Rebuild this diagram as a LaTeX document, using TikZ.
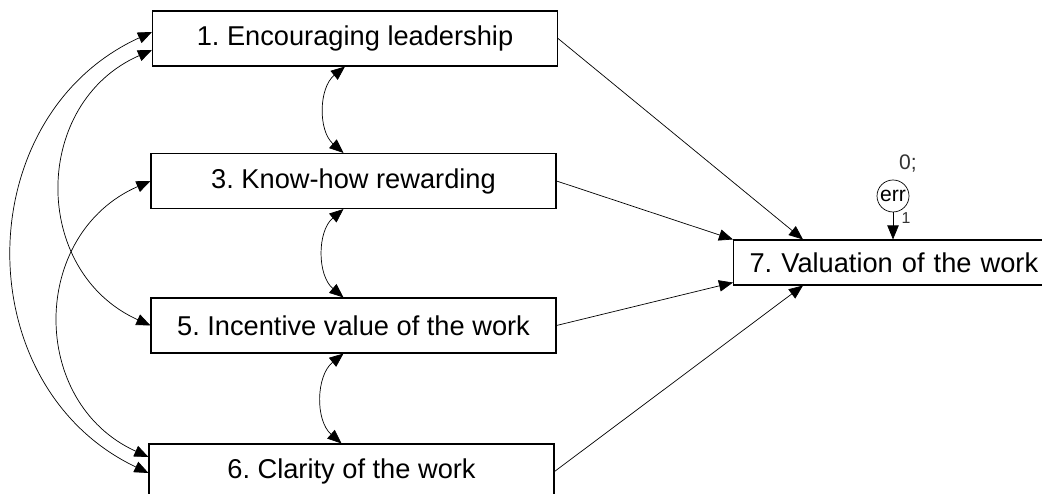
\documentclass[tikz,border=0pt]{standalone}
\usepackage{fontspec}
\setmainfont{Liberation Sans}
\frenchspacing
\usetikzlibrary{arrows.meta}
\tikzset{var/.style = {draw, line width = 0.6pt, minimum width = 8.1cm, minimum height = 1.1cm, inner sep = 0, font = \fontsize{15.5}{18}\selectfont}}
\tikzset{reg/.style = {-{Triangle[length = 8pt, width = 6.5pt]}, line width = 0.4pt}}
\tikzset{cov/.style = {{Triangle[length = 8pt, width = 6.5pt]}-{Triangle[length = 8pt, width = 6.5pt]}, line width = 0.4pt}}

\begin{document}
\begin{tikzpicture}
    \useasboundingbox (0, 0) rectangle (20.84, 9.88);
    \clip (0, 0) rectangle (20.84, 9.88);

    \node [var] (enc) at (7.10, 9.11) {1. Encouraging leadership};
    \node [var] (know) at (7.07, 6.26) {3. Know-how rewarding};
    \node [var] (inc) at (7.07, 3.37) {5. Incentive value of the work};
    \node [var] (clar) at (7.03, 0.45) {6. Clarity of the work};
    \node [var, minimum width = 6.4cm, minimum height = 0.9cm, text width = 7.5cm, align = left, inner xsep = 0.32cm, anchor = west] (val) at (14.66, 4.63) {7. Valuation of the work};

    \node [draw, circle, inner sep = 0, minimum size = 0.64cm, font = \fontsize{12}{14}\selectfont] (err) at (17.86, 5.96) {err};
    \node [font = \fontsize{12}{14}\selectfont, text = black!80] (zero) at (18.16, 6.62) {0;};
    \node [font = \fontsize{9}{10}\selectfont, text = black!80] (one) at (18.12, 5.52) {1};

    \draw [reg] (enc.east) -- ([xshift = 1.4cm]val.north west);
    \draw [reg] (know.east) -- (val.north west);
    \draw [reg] (inc.east) -- ([yshift = 0.06cm]val.south west);
    \draw [reg] (clar.east) -- ([xshift = 1.4cm]val.south west);
    \draw [reg] (err) -- (err |- val.north);

    \draw [cov] ([xshift = -0.2cm]enc.south) to [bend right = 50] ([xshift = -0.2cm]know.north);
    \draw [cov] ([xshift = -0.2cm]know.south) to [bend right = 50] ([xshift = -0.2cm]inc.north);
    \draw [cov] ([xshift = -0.2cm]inc.south) to [bend right = 50] ([xshift = -0.2cm]clar.north);

    \draw [cov] ([yshift = 0.13cm]enc.west) to [bend right = 65, looseness = 1.17] ([yshift = -0.03cm]clar.west);
    \draw [cov] ([yshift = -0.23cm]enc.west) to [bend right = 66, looseness = 1.22] (inc.west);
    \draw [cov] (know.west) to [bend right = 66, looseness = 1.22] ([yshift = 0.29cm]clar.west);
  \end{tikzpicture}
\end{document}
